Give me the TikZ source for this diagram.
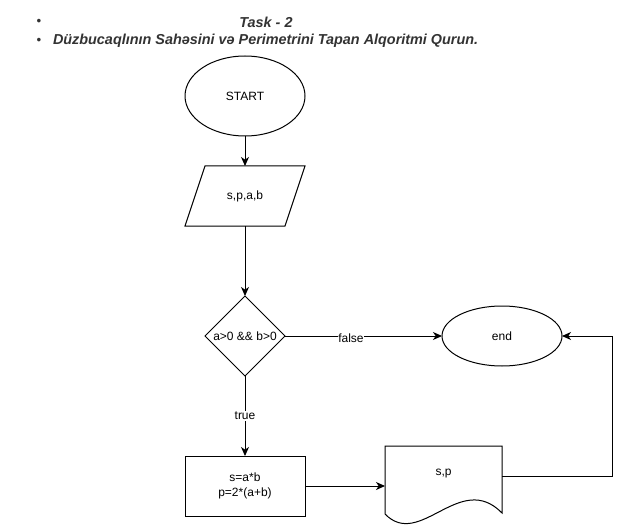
\documentclass[tikz,border=0pt]{standalone}
\usepackage{fontspec}
\setmainfont{Liberation Sans}
\usetikzlibrary{arrows.meta,shapes.geometric}
\definecolor{titlegray}{HTML}{333333}
\begin{document}
\begin{tikzpicture}[x=0.75pt,y=-0.75pt,line width=0.75pt,
  every node/.style={font=\fontsize{9pt}{11pt}\selectfont,inner sep=0pt,outer sep=0pt},
  arr/.style={-{Stealth[length=6.75pt,width=6pt,inset=2pt]}},
  term/.style={ellipse,draw,minimum width=90pt},
  hidden/.style={rectangle,draw=none},
  lbl/.style={fill=white,inner sep=0.5pt},
  title/.style={font=\fontsize{10.8pt}{13pt}\selectfont\bfseries\itshape,text=titlegray}
]
\useasboundingbox (0,0) rectangle (620,527);
\fill[white] (0,0) rectangle (620,527);

% title
\node[text=titlegray,anchor=center] (b1) at (39,22) {\fontsize{10pt}{11pt}\selectfont •};
\node[text=titlegray,anchor=center] (b2) at (39,41) {\fontsize{10pt}{11pt}\selectfont •};
\node[title] (t1) at (266,22) {Task - 2};
\node[title,anchor=west] (t2) at (53,41) {Düzbucaqlının Sahəsini və Perimetrini Tapan Alqoritmi Qurun.};

% nodes
\node[term,minimum height=60pt] (start) at (245,96) {START};
\node[hidden,minimum width=90pt,minimum height=45pt] (io) at (245,196) {s,p,a,b};
\draw ([xshift=15pt]io.north west) -- (io.north east) -- ([xshift=-15pt]io.south east) -- (io.south west) -- cycle;
\node[hidden,minimum width=60pt,minimum height=60pt] (dec) at (245,336) {a>0 \&\& b>0};
\draw (dec.north) -- (dec.east) -- (dec.south) -- (dec.west) -- cycle;
\node[term,minimum height=45pt] (endn) at (502,336) {end};
\node[rectangle,draw,minimum width=90pt,minimum height=45pt,align=center] (proc) at (245,486) {s=a*b\\p=2*(a+b)};
\node[hidden,minimum width=87.75pt,minimum height=51pt] (doc) at (443.5,480) {};
\node (doctext) at (443.5,474) {s,p};
\draw (doc.south west) -- (doc.north west) -- (doc.north east) -- ([yshift=0.75pt]doc.south east)
  .. controls ([xshift=-31.5pt,yshift=33pt]doc.south east) and ([xshift=26.25pt,yshift=-27pt]doc.south west) .. (doc.south west);

% connectors
\draw[arr] (start) -- (io);
\draw[arr] (io.south -| dec.north) -- (dec.north);
\draw[arr] (dec.east) -- node[lbl,pos=0.42,yshift=-1.5pt] (lf) {false} (endn.west);
\draw[arr] (dec.south) -- node[lbl,pos=0.5] (lt) {true} (proc.north);
\draw[arr] (proc.east) -- (proc.east -| doc.west);
\coordinate (outp) at ([yshift=3pt]doc.east);
\coordinate (corner) at (612,336);
\draw[arr] (outp) -| (corner) -- (endn.east);
\end{tikzpicture}
\end{document}
